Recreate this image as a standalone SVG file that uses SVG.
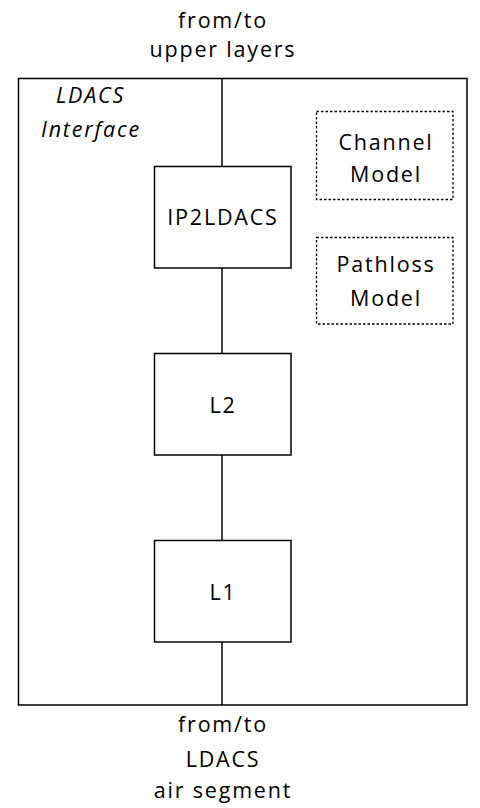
<svg xmlns="http://www.w3.org/2000/svg" width="480" height="808" viewBox="0 0 480 808">
  <style>
    .frame { fill: #ffffff; stroke: #000000; stroke-width: 1.5; }
    .block { fill: #ffffff; stroke: #000000; stroke-width: 1.5; }
    .model { fill: none; stroke: #000000; stroke-width: 1.3; stroke-dasharray: 2.5 2; }
    .wire { stroke: #000000; stroke-width: 1.5; fill: none; }
    text { font-family: "Open Sans", "Liberation Sans", sans-serif; font-size: 21.5px; letter-spacing: 1.8px; fill: #000000; text-anchor: middle; }
    .title { font-style: italic; text-anchor: start; }
  </style>
  <rect width="480" height="808" fill="#ffffff"/>

  <!-- external labels -->
  <text x="223" y="28">from/to</text>
  <text x="223" y="57">upper layers</text>
  <text x="223" y="732">from/to</text>
  <text x="223" y="767">LDACS</text>
  <text x="223" y="798">air segment</text>

  <!-- interface boundary -->
  <g id="ldacs-interface">
    <rect class="frame" x="18.5" y="78.5" width="448.5" height="626.5"/>
    <text class="title" x="56" y="103">LDACS</text>
    <text class="title" x="41" y="137">Interface</text>
  </g>

  <!-- vertical data path -->
  <g id="connectors">
    <line class="wire" x1="222" y1="78.5" x2="222" y2="166.5"/>
    <line class="wire" x1="222" y1="268" x2="222" y2="353.5"/>
    <line class="wire" x1="222" y1="455" x2="222" y2="540.5"/>
    <line class="wire" x1="222" y1="642" x2="222" y2="705"/>
  </g>

  <g id="ip2ldacs">
    <rect class="block" x="154.5" y="166.5" width="136.5" height="101.5"/>
    <text x="223" y="225">IP2LDACS</text>
  </g>

  <g id="l2">
    <rect class="block" x="154.5" y="353.5" width="136.5" height="101.5"/>
    <text x="223" y="413">L2</text>
  </g>

  <g id="l1">
    <rect class="block" x="154.5" y="540.5" width="136.5" height="101.5"/>
    <text x="223" y="600">L1</text>
  </g>

  <g id="channel-model">
    <rect class="model" x="316.5" y="111.5" width="136.5" height="88"/>
    <text x="386" y="150">Channel</text>
    <text x="386" y="182">Model</text>
  </g>

  <g id="pathloss-model">
    <rect class="model" x="316.5" y="237.5" width="136.5" height="86.5"/>
    <text x="386" y="272">Pathloss</text>
    <text x="386" y="306">Model</text>
  </g>
</svg>
